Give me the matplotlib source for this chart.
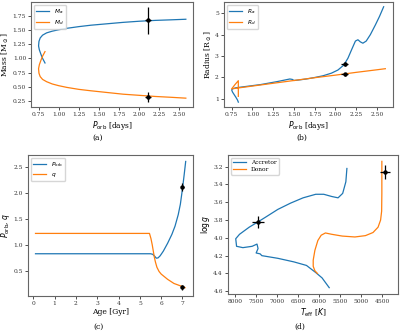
import numpy as np
import matplotlib
matplotlib.use("Agg")
import matplotlib.pyplot as plt

plt.rcParams['font.family'] = ['DejaVu Serif']
plt.rcParams['axes.edgecolor'] = '0.4'
plt.rcParams['axes.linewidth'] = 0.8

BLUE = '#1f77b4'
ORANGE = '#ff7f0e'

# (a) mass vs orbital period
p_ma = [0.83, 0.80, 0.78, 0.76, 0.75, 0.755, 0.77, 0.80, 0.85, 0.92, 1.0, 1.1, 1.25, 1.4, 1.6, 1.8, 2.0, 2.2, 2.4, 2.58]
ma = [0.92, 1.00, 1.07, 1.15, 1.22, 1.30, 1.36, 1.41, 1.45, 1.48, 1.505, 1.53, 1.56, 1.585, 1.61, 1.635, 1.655, 1.67, 1.68, 1.69]
p_md = [0.83, 0.80, 0.78, 0.76, 0.75, 0.755, 0.77, 0.80, 0.85, 0.92, 1.0, 1.1, 1.25, 1.4, 1.6, 1.8, 2.0, 2.2, 2.4, 2.58]
md = [1.12, 1.04, 0.97, 0.89, 0.82, 0.74, 0.68, 0.63, 0.59, 0.55, 0.52, 0.49, 0.455, 0.43, 0.40, 0.37, 0.35, 0.33, 0.315, 0.30]
obs_p, obs_p_err = 2.11, 0.04
obs_ma, obs_ma_err = 1.67, 0.24
obs_md, obs_md_err = 0.32, 0.09

# (b) radius vs orbital period
p_ra = [0.83, 0.82, 0.80, 0.78, 0.76, 0.75, 0.76, 0.80, 0.9, 1.0, 1.1, 1.2, 1.3, 1.4, 1.45, 1.48, 1.5, 1.55,
        1.65, 1.75, 1.85, 1.95, 2.03, 2.1, 2.15, 2.2, 2.24, 2.27, 2.3, 2.33, 2.37, 2.42, 2.48, 2.53, 2.58]
ra = [0.85, 0.95, 1.08, 1.2, 1.32, 1.42, 1.47, 1.52, 1.57, 1.62, 1.67, 1.74, 1.81, 1.89, 1.93, 1.91, 1.86, 1.88,
      1.93, 2.0, 2.08, 2.2, 2.35, 2.58, 2.9, 3.35, 3.7, 3.76, 3.66, 3.6, 3.7, 4.0, 4.45, 4.85, 5.3]
p_rd = [0.83, 0.83, 0.79, 0.75, 1.0, 1.25, 1.5, 1.75, 2.0, 2.25, 2.5, 2.6]
rd = [1.12, 1.85, 1.67, 1.47, 1.60, 1.73, 1.86, 1.99, 2.11, 2.24, 2.36, 2.41]
obs_ra, obs_ra_err = 2.63, 0.1
obs_rd, obs_rd_err = 2.15, 0.08

# (c) period and mass ratio vs age
age_p = [0.1, 5.5, 5.6, 5.7, 5.77, 5.85, 5.95, 6.1, 6.3, 6.5, 6.65, 6.8, 6.9, 7.0, 7.08, 7.15]
porb = [0.83, 0.83, 0.82, 0.78, 0.745, 0.75, 0.79, 0.88, 1.03, 1.2, 1.36, 1.58, 1.78, 2.08, 2.35, 2.6]
age_q = [0.1, 5.45, 5.52, 5.58, 5.63, 5.68, 5.73, 5.8, 5.9, 6.0, 6.15, 6.3, 6.6, 6.8, 7.0, 7.12]
q = [1.22, 1.22, 1.12, 1.0, 0.88, 0.76, 0.67, 0.57, 0.49, 0.44, 0.39, 0.34, 0.26, 0.23, 0.20, 0.18]
obs_age, obs_age_err = 7.0, 0.05
obs_porb, obs_porb_err = 2.11, 0.07
obs_q, obs_q_err = 0.19, 0.05

# (d) Kiel diagram
teff_a = [5760, 5930, 6080, 6300, 6600, 6980, 7360, 7400, 7495, 7450, 7475, 7590, 7810, 7960, 7980,
          7890, 7660, 7450, 7280, 6980, 6680, 6380, 6080, 5890, 5700, 5550, 5440, 5365, 5340]
logg_a = [4.56, 4.45, 4.39, 4.31, 4.27, 4.23, 4.20, 4.18, 4.17, 4.12, 4.07, 4.095, 4.11, 4.095, 4.01,
          3.96, 3.88, 3.82, 3.77, 3.68, 3.61, 3.55, 3.51, 3.51, 3.535, 3.55, 3.50, 3.37, 3.22]
teff_d = [6040, 6100, 6140, 6140, 6100, 6030, 5950, 5850, 5700, 5450, 5150, 4900, 4720, 4600, 4540, 4515, 4510, 4510, 4510]
logg_d = [4.40, 4.37, 4.32, 4.25, 4.14, 4.03, 3.97, 3.945, 3.96, 3.98, 3.99, 3.975, 3.94, 3.88, 3.80, 3.70, 3.50, 3.30, 3.14]
obs_teff_a, obs_teff_a_err = 7450, 140
obs_logg_a, obs_logg_a_err = 3.82, 0.07
obs_teff_d, obs_teff_d_err = 4430, 120
obs_logg_d, obs_logg_d_err = 3.26, 0.08

fig = plt.figure(figsize=(4.0, 3.32), dpi=100)

TICK = 4.3
LAB = 5.5
LW = 0.9


def style(ax):
    ax.tick_params(labelsize=TICK, length=2.5, width=0.6, pad=1.2, colors='0.2')
    ax.xaxis.label.set_size(LAB)
    ax.yaxis.label.set_size(LAB)
    ax.xaxis.labelpad = 1.5
    ax.yaxis.labelpad = 1.0


def obs(ax, x, y, xe, ye):
    ax.errorbar(x, y, xerr=xe, yerr=ye, fmt='o', color='k', ms=2.2, elinewidth=0.9, capsize=0, zorder=5)


# (a)
ax1 = fig.add_axes([0.078, 0.678, 0.405, 0.316])
ax1.plot(p_ma, ma, color=BLUE, lw=LW, label='$M_a$')
ax1.plot(p_md, md, color=ORANGE, lw=LW, label='$M_d$')
obs(ax1, obs_p, obs_ma, obs_p_err, obs_ma_err)
obs(ax1, obs_p, obs_md, obs_p_err, obs_md_err)
ax1.set_xticks(np.arange(0.75, 2.51, 0.25))
ax1.set_yticks(np.arange(0.25, 1.76, 0.25))
ax1.set_xlabel(r'$P_{\rm orb}$ [days]')
ax1.set_ylabel(r'Mass [M$_\odot$]')
ax1.legend(loc='upper left', fontsize=4.2, handlelength=2.2, borderpad=0.4, labelspacing=0.3)
style(ax1)

# (b)
ax2 = fig.add_axes([0.56, 0.678, 0.4225, 0.316])
ax2.plot(p_ra, ra, color=BLUE, lw=LW, label='$R_a$')
ax2.plot(p_rd, rd, color=ORANGE, lw=LW, label='$R_d$')
obs(ax2, obs_p, obs_ra, obs_p_err, obs_ra_err)
obs(ax2, obs_p, obs_rd, obs_p_err, obs_rd_err)
ax2.set_xticks(np.arange(0.75, 2.51, 0.25))
ax2.set_yticks([1, 2, 3, 4, 5])
ax2.set_xlabel(r'$P_{\rm orb}$ [days]')
ax2.set_ylabel(r'Radius [R$_\odot$]')
ax2.legend(loc='upper left', fontsize=4.2, handlelength=2.2, borderpad=0.4, labelspacing=0.3)
style(ax2)

# (c)
ax3 = fig.add_axes([0.07, 0.108, 0.413, 0.425])
ax3.plot(age_p, porb, color=BLUE, lw=LW, label=r'$P_{\rm orb}$')
ax3.plot(age_q, q, color=ORANGE, lw=LW, label='$q$')
obs(ax3, obs_age, obs_porb, obs_age_err, obs_porb_err)
obs(ax3, obs_age, obs_q, obs_age_err, obs_q_err)
ax3.set_xticks(range(0, 8))
ax3.set_yticks([0.5, 1.0, 1.5, 2.0, 2.5])
ax3.set_xlabel('Age [Gyr]')
ax3.set_ylabel(r'$P_{\rm orb}$, $q$')
ax3.legend(loc='upper left', fontsize=4.2, handlelength=2.2, borderpad=0.4, labelspacing=0.3)
style(ax3)

# (d)
ax4 = fig.add_axes([0.57, 0.1145, 0.425, 0.4185])
ax4.plot(teff_a, logg_a, color=BLUE, lw=LW, label='Accretor')
ax4.plot(teff_d, logg_d, color=ORANGE, lw=LW, label='Donor')
obs(ax4, obs_teff_a, obs_logg_a, obs_teff_a_err, obs_logg_a_err)
obs(ax4, obs_teff_d, obs_logg_d, obs_teff_d_err, obs_logg_d_err)
ax4.invert_xaxis()
ax4.invert_yaxis()
ax4.set_xticks(np.arange(8000, 4499, -500))
ax4.set_yticks(np.arange(3.2, 4.61, 0.2))
ax4.set_xlabel(r'$T_{\rm eff}$ [$K$]')
ax4.set_ylabel(r'$\log g$')
ax4.legend(loc='upper left', fontsize=4.2, handlelength=2.2, borderpad=0.4, labelspacing=0.3)
style(ax4)

for txt, x, y in [('(a)', 0.245, 1 - 138 / 332), ('(b)', 0.755, 1 - 138 / 332),
                  ('(c)', 0.245, 1 - 327 / 332), ('(d)', 0.75, 1 - 327 / 332)]:
    fig.text(x, y, txt, ha='center', va='center', fontsize=LAB)

fig.savefig('out.png', dpi=100)
